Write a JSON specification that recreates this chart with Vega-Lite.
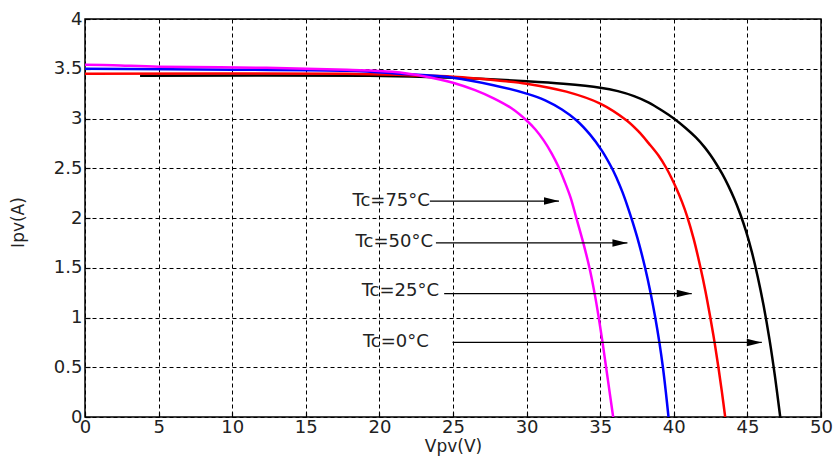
{
  "$schema": "https://vega.github.io/schema/vega-lite/v6.json",
  "width": 736,
  "height": 398,
  "autosize": "none",
  "padding": {"left": 85, "top": 19, "right": 13, "bottom": 40},
  "background": "white",
  "config": {
    "view": {"stroke": "black", "strokeWidth": 1.5},
    "axis": {
      "labelFont": "DejaVu Sans",
      "labelFontSize": 18,
      "labelColor": "#222",
      "titleFont": "DejaVu Sans",
      "titleFontSize": 17,
      "titleFontWeight": "normal",
      "titleColor": "#222",
      "grid": true,
      "gridColor": "black",
      "gridOpacity": 1,
      "gridWidth": 1,
      "gridDash": [4, 3],
      "domain": false,
      "ticks": true,
      "tickColor": "black",
      "tickSize": -5,
      "tickWidth": 1.2,
      "zindex": 1
    }
  },
  "datasets": {
    "curves": [
      {"series": "Tc=0", "V": 3.74, "I": 3.43},
      {"series": "Tc=0", "V": 19.3, "I": 3.43},
      {"series": "Tc=0", "V": 25, "I": 3.41},
      {"series": "Tc=0", "V": 30, "I": 3.375},
      {"series": "Tc=0", "V": 32.5, "I": 3.35},
      {"series": "Tc=0", "V": 35, "I": 3.31},
      {"series": "Tc=0", "V": 36.2, "I": 3.275},
      {"series": "Tc=0", "V": 37.3, "I": 3.225},
      {"series": "Tc=0", "V": 38.3, "I": 3.16},
      {"series": "Tc=0", "V": 39.2, "I": 3.08},
      {"series": "Tc=0", "V": 40, "I": 3.0},
      {"series": "Tc=0", "V": 40.8, "I": 2.905},
      {"series": "Tc=0", "V": 41.5, "I": 2.81},
      {"series": "Tc=0", "V": 42.1, "I": 2.71},
      {"series": "Tc=0", "V": 42.5, "I": 2.63},
      {"series": "Tc=0", "V": 42.9, "I": 2.54},
      {"series": "Tc=0", "V": 43.3, "I": 2.44},
      {"series": "Tc=0", "V": 43.7, "I": 2.325},
      {"series": "Tc=0", "V": 44.1, "I": 2.195},
      {"series": "Tc=0", "V": 44.5, "I": 2.045},
      {"series": "Tc=0", "V": 44.9, "I": 1.87},
      {"series": "Tc=0", "V": 45.3, "I": 1.66},
      {"series": "Tc=0", "V": 45.7, "I": 1.41},
      {"series": "Tc=0", "V": 46.1, "I": 1.12},
      {"series": "Tc=0", "V": 46.5, "I": 0.78},
      {"series": "Tc=0", "V": 46.88, "I": 0.4},
      {"series": "Tc=0", "V": 47.23, "I": 0.0},

      {"series": "Tc=25", "V": 0, "I": 3.45},
      {"series": "Tc=25", "V": 17.8, "I": 3.45},
      {"series": "Tc=25", "V": 22, "I": 3.435},
      {"series": "Tc=25", "V": 25, "I": 3.42},
      {"series": "Tc=25", "V": 28.2, "I": 3.38},
      {"series": "Tc=25", "V": 30, "I": 3.35},
      {"series": "Tc=25", "V": 32.7, "I": 3.27},
      {"series": "Tc=25", "V": 35, "I": 3.15},
      {"series": "Tc=25", "V": 36.8, "I": 2.98},
      {"series": "Tc=25", "V": 37.6, "I": 2.87},
      {"series": "Tc=25", "V": 38.3, "I": 2.75},
      {"series": "Tc=25", "V": 38.95, "I": 2.63},
      {"series": "Tc=25", "V": 39.5, "I": 2.5},
      {"series": "Tc=25", "V": 39.85, "I": 2.4},
      {"series": "Tc=25", "V": 40.2, "I": 2.29},
      {"series": "Tc=25", "V": 40.55, "I": 2.165},
      {"series": "Tc=25", "V": 40.9, "I": 2.02},
      {"series": "Tc=25", "V": 41.35, "I": 1.79},
      {"series": "Tc=25", "V": 41.8, "I": 1.51},
      {"series": "Tc=25", "V": 42.15, "I": 1.265},
      {"series": "Tc=25", "V": 42.48, "I": 1.0},
      {"series": "Tc=25", "V": 42.77, "I": 0.75},
      {"series": "Tc=25", "V": 43.03, "I": 0.5},
      {"series": "Tc=25", "V": 43.27, "I": 0.25},
      {"series": "Tc=25", "V": 43.49, "I": 0.0},

      {"series": "Tc=50", "V": 0, "I": 3.5},
      {"series": "Tc=50", "V": 10, "I": 3.49},
      {"series": "Tc=50", "V": 17.8, "I": 3.48},
      {"series": "Tc=50", "V": 21.4, "I": 3.45},
      {"series": "Tc=50", "V": 25, "I": 3.41},
      {"series": "Tc=50", "V": 27.75, "I": 3.335},
      {"series": "Tc=50", "V": 30, "I": 3.25},
      {"series": "Tc=50", "V": 31.3, "I": 3.18},
      {"series": "Tc=50", "V": 32.4, "I": 3.09},
      {"series": "Tc=50", "V": 33.4, "I": 2.98},
      {"series": "Tc=50", "V": 34.3, "I": 2.84},
      {"series": "Tc=50", "V": 35.1, "I": 2.68},
      {"series": "Tc=50", "V": 35.8, "I": 2.5},
      {"series": "Tc=50", "V": 36.15, "I": 2.39},
      {"series": "Tc=50", "V": 36.5, "I": 2.265},
      {"series": "Tc=50", "V": 36.85, "I": 2.12},
      {"series": "Tc=50", "V": 37.2, "I": 1.96},
      {"series": "Tc=50", "V": 37.62, "I": 1.75},
      {"series": "Tc=50", "V": 38.05, "I": 1.5},
      {"series": "Tc=50", "V": 38.42, "I": 1.25},
      {"series": "Tc=50", "V": 38.74, "I": 1.0},
      {"series": "Tc=50", "V": 39.02, "I": 0.75},
      {"series": "Tc=50", "V": 39.26, "I": 0.5},
      {"series": "Tc=50", "V": 39.46, "I": 0.25},
      {"series": "Tc=50", "V": 39.64, "I": 0.0},

      {"series": "Tc=75", "V": 0, "I": 3.54},
      {"series": "Tc=75", "V": 1.9, "I": 3.535},
      {"series": "Tc=75", "V": 5, "I": 3.52},
      {"series": "Tc=75", "V": 12.3, "I": 3.51},
      {"series": "Tc=75", "V": 17.8, "I": 3.49},
      {"series": "Tc=75", "V": 20.9, "I": 3.47},
      {"series": "Tc=75", "V": 23.2, "I": 3.42},
      {"series": "Tc=75", "V": 25, "I": 3.36},
      {"series": "Tc=75", "V": 26.5, "I": 3.285},
      {"series": "Tc=75", "V": 27.8, "I": 3.2},
      {"series": "Tc=75", "V": 29.0, "I": 3.1},
      {"series": "Tc=75", "V": 30.0, "I": 2.98},
      {"series": "Tc=75", "V": 30.6, "I": 2.89},
      {"series": "Tc=75", "V": 31.16, "I": 2.78},
      {"series": "Tc=75", "V": 31.7, "I": 2.65},
      {"series": "Tc=75", "V": 32.15, "I": 2.52},
      {"series": "Tc=75", "V": 32.6, "I": 2.36},
      {"series": "Tc=75", "V": 33.0, "I": 2.2},
      {"series": "Tc=75", "V": 33.38, "I": 2.0},
      {"series": "Tc=75", "V": 33.85, "I": 1.75},
      {"series": "Tc=75", "V": 34.27, "I": 1.5},
      {"series": "Tc=75", "V": 34.61, "I": 1.25},
      {"series": "Tc=75", "V": 34.9, "I": 1.0},
      {"series": "Tc=75", "V": 35.16, "I": 0.75},
      {"series": "Tc=75", "V": 35.4, "I": 0.5},
      {"series": "Tc=75", "V": 35.64, "I": 0.25},
      {"series": "Tc=75", "V": 35.88, "I": 0.0}
    ],
    "arrows": [
      {"label": "Tc=75°C", "tx": 23.43, "ty": 2.17, "x0": 23.43, "x1": 32.2, "y": 2.17},
      {"label": "Tc=50°C", "tx": 23.64, "ty": 1.76, "x0": 23.84, "x1": 36.85, "y": 1.75},
      {"label": "Tc=25°C", "tx": 24.05, "ty": 1.27, "x0": 24.4, "x1": 41.22, "y": 1.24},
      {"label": "Tc=0°C", "tx": 23.36, "ty": 0.75, "x0": 24.97, "x1": 45.98, "y": 0.75}
    ]
  },
  "layer": [
    {
      "data": {"name": "curves"},
      "mark": {"type": "line", "strokeWidth": 2.5, "clip": true, "interpolate": "catmull-rom"},
      "encoding": {
        "x": {
          "field": "V", "type": "quantitative",
          "scale": {"domain": [0, 50], "nice": false, "zero": false},
          "axis": {
            "values": [0, 5, 10, 15, 20, 25, 30, 35, 40, 45, 50],
            "format": "~g",
            "title": "Vpv(V)",
            "labelPadding": 6,
            "labelFlush": false,
            "titleX": 368,
            "titleY": 34,
            "titleAnchor": null,
            "titleAlign": "center",
            "titleBaseline": "alphabetic"
          }
        },
        "y": {
          "field": "I", "type": "quantitative",
          "scale": {"domain": [0, 4], "nice": false, "zero": false},
          "axis": {
            "values": [0, 0.5, 1, 1.5, 2, 2.5, 3, 3.5, 4],
            "format": "~g",
            "title": "Ipv(A)",
            "labelPadding": 8,
            "labelFlush": false,
            "titleAngle": 270,
            "titleX": -67,
            "titleY": 203,
            "titleAlign": "center",
            "titleBaseline": "middle"
          }
        },
        "color": {
          "field": "series", "type": "nominal", "legend": null,
          "scale": {
            "domain": ["Tc=0", "Tc=25", "Tc=50", "Tc=75"],
            "range": ["#000000", "#ff0000", "#0000ff", "#ff00ff"]
          }
        }
      }
    },
    {
      "data": {"name": "arrows"},
      "mark": {"type": "rule", "color": "black", "strokeWidth": 1.2},
      "encoding": {
        "x": {"field": "x0", "type": "quantitative"},
        "x2": {"field": "x1"},
        "y": {"field": "y", "type": "quantitative"}
      }
    },
    {
      "data": {"name": "arrows"},
      "mark": {
        "type": "point",
        "shape": "M 0 0 L -2 -0.5 L -2 0.5 Z",
        "filled": true,
        "color": "black",
        "opacity": 1,
        "size": 225
      },
      "encoding": {
        "x": {"field": "x1", "type": "quantitative"},
        "y": {"field": "y", "type": "quantitative"}
      }
    },
    {
      "data": {"name": "arrows"},
      "mark": {
        "type": "text",
        "align": "right",
        "baseline": "middle",
        "font": "DejaVu Sans",
        "fontSize": 18,
        "color": "#222"
      },
      "encoding": {
        "x": {"field": "tx", "type": "quantitative"},
        "y": {"field": "ty", "type": "quantitative"},
        "text": {"field": "label"}
      }
    }
  ]
}
